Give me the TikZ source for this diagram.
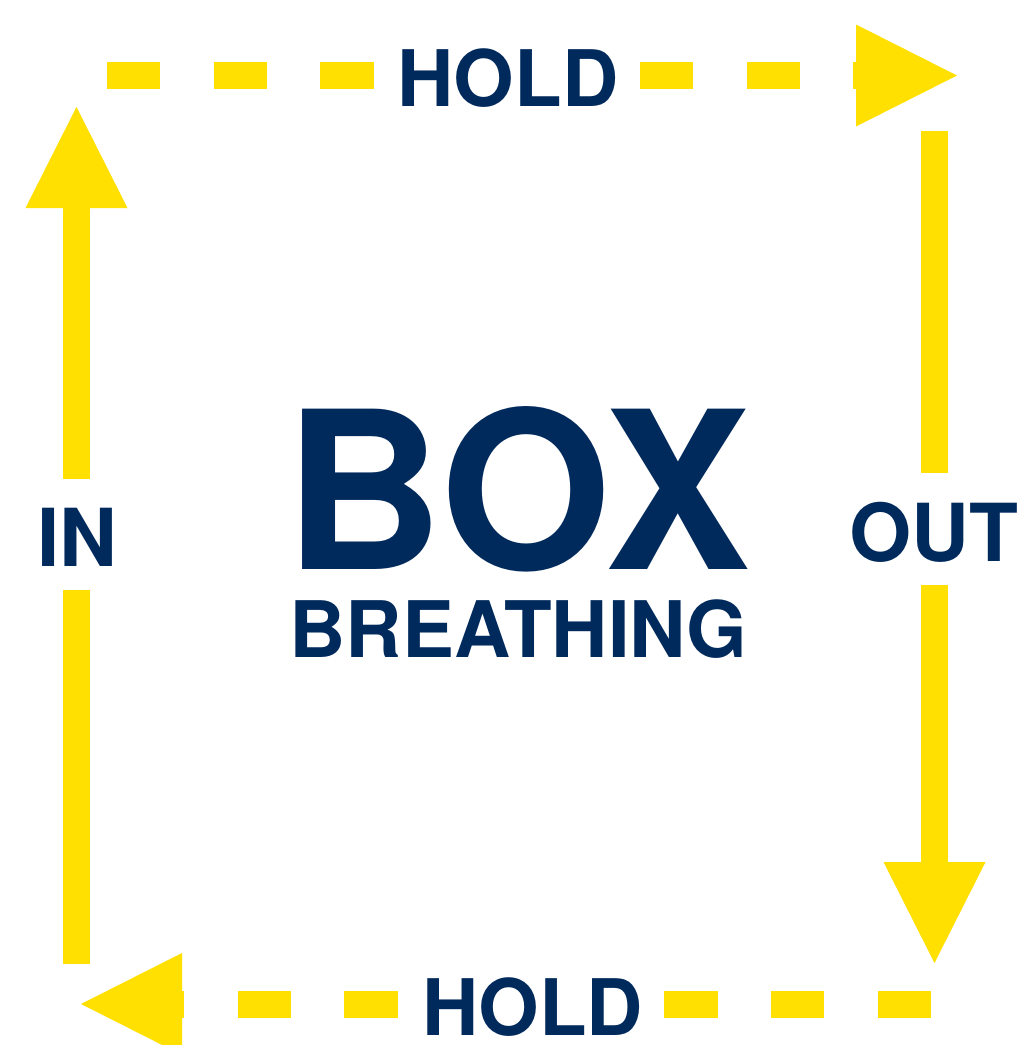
\documentclass[tikz,border=0pt]{standalone}
\usepackage{fontspec}
\setmainfont{TeX Gyre Heros}
\usetikzlibrary{arrows.meta}
\definecolor{sunyellow}{RGB}{255,224,0}
\definecolor{navyblue}{RGB}{0,41,92}
\tikzset{
  band/.style={draw=sunyellow, line width=27pt},
  dashband/.style={band, dash pattern=on 53.33pt off 53.33pt},
  bigtip/.style={-{Triangle[length=101pt, width=102pt, line width=0pt]}},
  label/.style={text=navyblue, font=\bfseries\fontsize{78}{78}\selectfont, anchor=base, inner sep=0pt, text height=56pt, text depth=0pt},
  sidelabel/.style={label, font=\bfseries\fontsize{80}{80}\selectfont, text height=58pt},
  title/.style={text=navyblue, font=\bfseries\fontsize{220}{220}\selectfont, anchor=base, inner sep=0pt, text height=158pt, text depth=0pt}
}
\begin{document}
\begin{tikzpicture}[x=1pt,y=-1pt]
\useasboundingbox[fill=white] (0,0) rectangle (1021,1045);
% labels
\node[label] (holdtop) at (508,106) {HOLD};
\node[label] (holdbot) at (532.5,1035) {HOLD};
\node[sidelabel] (in) at (77.5,566) {IN};
\node[sidelabel] (out) at (934,561) {OUT};
\node[title] (box) at (517.5,569) {BOX};
\node[label] (breath) at (518.5,657) {BREATHING};
% connector ends
\coordinate (t1) at (107,75.5);
\coordinate (t2) at (373.7,75.5);
\coordinate (t3) at (640,75.5);
\coordinate (t4) at (957,75.5);
\coordinate (r1) at (934.5,131);
\coordinate (r2) at (934.5,473);
\coordinate (r3) at (934.5,585);
\coordinate (r4) at (934.5,963);
\coordinate (b1) at (931,1004);
\coordinate (b2) at (664.3,1004);
\coordinate (b3) at (397.7,1004);
\coordinate (b4) at (81,1004);
\coordinate (l1) at (76.5,964);
\coordinate (l2) at (76.5,590);
\coordinate (l3) at (76.5,479);
\coordinate (l4) at (76.5,107);
% connectors
\draw[dashband] (t1) -- (t2);
\draw[dashband, bigtip] (t3) -- (t4);
\draw[band] (r1) -- (r2);
\draw[band, bigtip] (r3) -- (r4);
\draw[dashband] (b1) -- (b2);
\draw[dashband, bigtip] (b3) -- (b4);
\draw[band] (l1) -- (l2);
\draw[band, bigtip] (l3) -- (l4);
\end{tikzpicture}
\end{document}
